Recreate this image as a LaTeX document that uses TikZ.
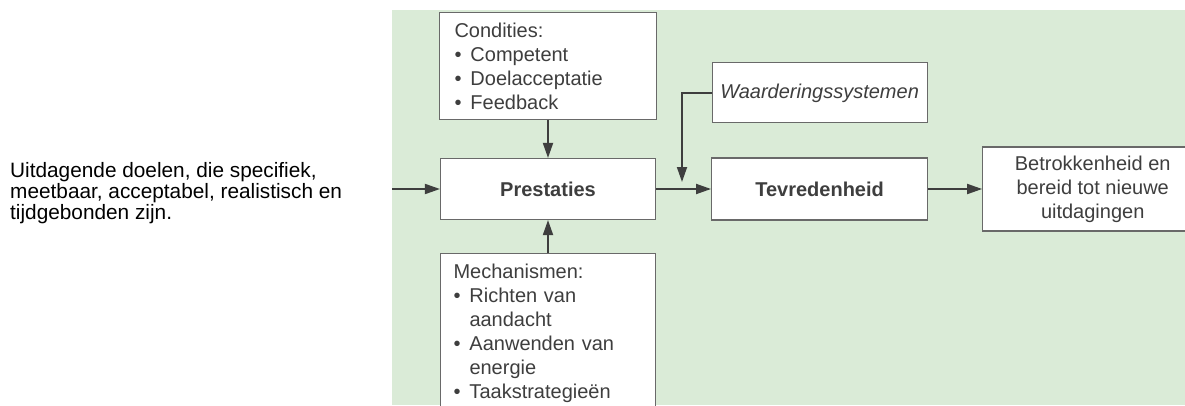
\documentclass[tikz,border=0pt]{standalone}
\usepackage{fontspec}
\setmainfont{Liberation Sans}
\usetikzlibrary{arrows.meta,positioning}
\definecolor{bggreen}{RGB}{218,235,215}
\definecolor{inkgrey}{RGB}{62,62,62}
\definecolor{framegrey}{RGB}{105,105,105}
\newcommand{\bul}{\makebox[16pt][l]{\textbullet}}
\newcommand{\ind}{\hspace*{16pt}}

\begin{document}
\begin{tikzpicture}[x=1pt, y=1pt, >={Triangle[length=15pt,width=10pt]}, node distance=36pt]
\tikzstyle{box}=[draw=framegrey, line width=1.1pt, fill=white, text=inkgrey, inner sep=0pt, font=\fontsize{20}{24}\selectfont]
\tikzstyle{conn}=[->, draw=inkgrey, line width=1.8pt]
\clip (0,0) rectangle (1185,405);
\fill[bggreen] (392,0) rectangle (1185,395);
% middle column
\node[box, minimum width=215pt, minimum height=61pt, font=\fontsize{20}{24}\selectfont\bfseries] (prest) at (548,216) {Prestaties};
\node[box, text width=187pt, inner xsep=15pt, inner ysep=10pt, align=left, above=38pt of prest] (cond)
  {Condities:\\ \bul Competent\\ \bul Doelacceptatie\\ \bul Feedback};
\node[box, text width=189pt, inner xsep=13pt, inner ysep=10pt, align=left, below=33pt of prest] (mech)
  {Mechanismen:\\ \bul Richten van\\ \ind aandacht\\ \bul Aanwenden van\\ \ind energie\\ \bul Taakstrategieën};
% right part
\node[box, minimum width=216pt, minimum height=62pt, font=\fontsize{20}{24}\selectfont\bfseries, right=55pt of prest] (tevr) {Tevredenheid};
\node[box, minimum width=215pt, minimum height=60pt, font=\fontsize{20}{24}\selectfont\itshape, above=34pt of tevr] (waard) {Waarderingssystemen};
\node[box, minimum width=220pt, minimum height=84pt, align=center, right=54pt of tevr] (betr)
  {Betrokkenheid en\\bereid tot nieuwe\\uitdagingen};
% left text
\node[anchor=north west, inner sep=0pt, align=left, font=\fontsize{20.8}{21}\selectfont] (goal) at (10,242.5)
  {Uitdagende doelen, die specifiek,\\meetbaar, acceptabel, realistisch en\\tijdgebonden zijn.};
\coordinate (in) at (392,216);
\coordinate (wtip) at (682,223);
\path
(in)    edge[conn] (prest)
(cond)  edge[conn] (prest)
(mech)  edge[conn] (prest)
(prest) edge[conn] (tevr)
(tevr)  edge[conn] (betr)
;
\draw[conn] (waard.west) -| (wtip);
\end{tikzpicture}
\end{document}
